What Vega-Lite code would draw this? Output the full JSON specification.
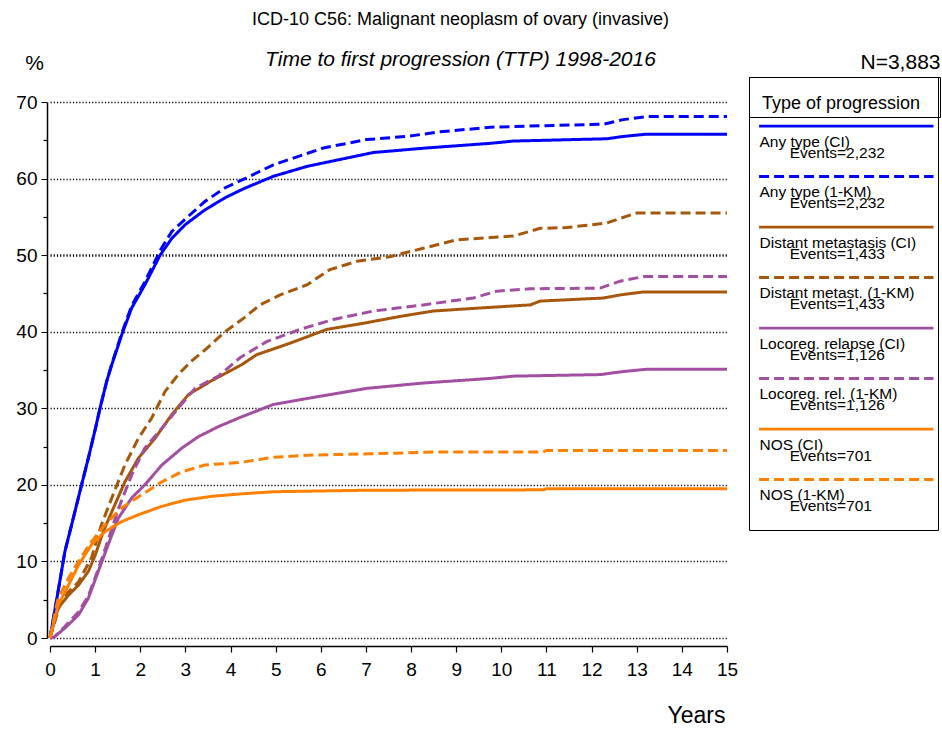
{
  "$schema": "https://vega.github.io/schema/vega-lite/v6.json",
  "width": 677,
  "height": 536,
  "autosize": {"type": "none"},
  "padding": {"left": 50, "top": 102, "right": 215, "bottom": 91},
  "background": "white",
  "config": {"view": {"stroke": null}, "font": "Liberation Sans", "style": {"guide-label": {"lineHeight": 11}}},
  "title": {
    "text": "ICD-10 C56: Malignant neoplasm of ovary (invasive)",
    "subtitle": "Time to first progression (TTP) 1998-2016",
    "anchor": "middle",
    "frame": "group",
    "dx": 72,
    "offset": -19,
    "fontSize": 18,
    "fontWeight": "normal",
    "color": "black",
    "subtitleFontSize": 21,
    "subtitleFontStyle": "italic",
    "subtitleColor": "black",
    "subtitlePadding": 20
  },
  "data": {
    "values": [
      {"s":"A1","t":0,"v":0},{"s":"A1","t":0.18,"v":6.1},{"s":"A1","t":0.33,"v":11.3},{"s":"A1","t":0.48,"v":14.8},{"s":"A1","t":0.7,"v":20},{"s":"A1","t":0.85,"v":23.5},{"s":"A1","t":1,"v":27.2},{"s":"A1","t":1.12,"v":30.3},{"s":"A1","t":1.26,"v":33.6},{"s":"A1","t":1.37,"v":35.7},{"s":"A1","t":1.59,"v":39.6},{"s":"A1","t":1.81,"v":43.1},{"s":"A1","t":2.1,"v":46.1},{"s":"A1","t":2.44,"v":50},{"s":"A1","t":2.7,"v":52.2},{"s":"A1","t":3,"v":54},{"s":"A1","t":3.43,"v":55.9},{"s":"A1","t":3.88,"v":57.5},{"s":"A1","t":4.3,"v":58.7},{"s":"A1","t":4.95,"v":60.3},{"s":"A1","t":5.7,"v":61.6},{"s":"A1","t":6.43,"v":62.5},{"s":"A1","t":7.16,"v":63.4},{"s":"A1","t":8.35,"v":64},{"s":"A1","t":9.75,"v":64.6},{"s":"A1","t":10.27,"v":64.9},{"s":"A1","t":12.34,"v":65.2},{"s":"A1","t":12.7,"v":65.5},{"s":"A1","t":13.22,"v":65.8},{"s":"A1","t":15,"v":65.8},
      {"s":"A2","t":0,"v":0},{"s":"A2","t":0.18,"v":6.1},{"s":"A2","t":0.33,"v":11.3},{"s":"A2","t":0.48,"v":14.8},{"s":"A2","t":0.7,"v":20},{"s":"A2","t":0.85,"v":23.5},{"s":"A2","t":1,"v":27.2},{"s":"A2","t":1.12,"v":30.3},{"s":"A2","t":1.26,"v":33.6},{"s":"A2","t":1.37,"v":35.8},{"s":"A2","t":1.59,"v":39.8},{"s":"A2","t":1.81,"v":43.4},{"s":"A2","t":2.1,"v":46.5},{"s":"A2","t":2.44,"v":50.6},{"s":"A2","t":2.7,"v":53.1},{"s":"A2","t":3.07,"v":55.1},{"s":"A2","t":3.43,"v":57},{"s":"A2","t":3.88,"v":58.8},{"s":"A2","t":4.32,"v":60},{"s":"A2","t":4.95,"v":61.8},{"s":"A2","t":6.06,"v":64},{"s":"A2","t":7.02,"v":65.1},{"s":"A2","t":7.9,"v":65.5},{"s":"A2","t":8.64,"v":66.1},{"s":"A2","t":9.75,"v":66.7},{"s":"A2","t":10.27,"v":66.8},{"s":"A2","t":12.26,"v":67.1},{"s":"A2","t":12.7,"v":67.7},{"s":"A2","t":13.22,"v":68.1},{"s":"A2","t":15,"v":68.1},
      {"s":"D1","t":0,"v":0},{"s":"D1","t":0.18,"v":3.9},{"s":"D1","t":0.41,"v":5.6},{"s":"D1","t":0.63,"v":6.9},{"s":"D1","t":0.85,"v":8.7},{"s":"D1","t":1,"v":10.8},{"s":"D1","t":1.18,"v":13.9},{"s":"D1","t":1.37,"v":16.5},{"s":"D1","t":1.66,"v":20.4},{"s":"D1","t":1.96,"v":23.5},{"s":"D1","t":2.33,"v":26.1},{"s":"D1","t":2.7,"v":29.2},{"s":"D1","t":3.07,"v":31.8},{"s":"D1","t":3.58,"v":33.6},{"s":"D1","t":4.25,"v":35.7},{"s":"D1","t":4.58,"v":37},{"s":"D1","t":5.32,"v":38.5},{"s":"D1","t":6.13,"v":40.3},{"s":"D1","t":6.94,"v":41.1},{"s":"D1","t":7.76,"v":42},{"s":"D1","t":8.49,"v":42.7},{"s":"D1","t":9.53,"v":43.1},{"s":"D1","t":10.64,"v":43.5},{"s":"D1","t":10.86,"v":44},{"s":"D1","t":12.26,"v":44.4},{"s":"D1","t":12.63,"v":44.8},{"s":"D1","t":13.15,"v":45.2},{"s":"D1","t":15,"v":45.2},
      {"s":"D2","t":0,"v":0},{"s":"D2","t":0.26,"v":5.2},{"s":"D2","t":0.63,"v":7.3},{"s":"D2","t":0.92,"v":10.5},{"s":"D2","t":1.14,"v":14.8},{"s":"D2","t":1.37,"v":18.3},{"s":"D2","t":1.66,"v":22.6},{"s":"D2","t":1.96,"v":26.1},{"s":"D2","t":2.25,"v":28.7},{"s":"D2","t":2.55,"v":32.2},{"s":"D2","t":2.84,"v":34.4},{"s":"D2","t":3.14,"v":36.2},{"s":"D2","t":3.43,"v":37.6},{"s":"D2","t":3.88,"v":40},{"s":"D2","t":4.3,"v":41.8},{"s":"D2","t":4.65,"v":43.5},{"s":"D2","t":5.1,"v":44.8},{"s":"D2","t":5.69,"v":46.1},{"s":"D2","t":6.2,"v":48.1},{"s":"D2","t":6.8,"v":49.2},{"s":"D2","t":7.53,"v":49.8},{"s":"D2","t":8.27,"v":50.9},{"s":"D2","t":9.01,"v":52},{"s":"D2","t":9.75,"v":52.3},{"s":"D2","t":10.27,"v":52.5},{"s":"D2","t":10.86,"v":53.5},{"s":"D2","t":11.45,"v":53.6},{"s":"D2","t":12.34,"v":54.2},{"s":"D2","t":12.63,"v":54.8},{"s":"D2","t":13,"v":55.5},{"s":"D2","t":15,"v":55.5},
      {"s":"L1","t":0,"v":0},{"s":"L1","t":0.09,"v":0.1},{"s":"L1","t":0.33,"v":1.3},{"s":"L1","t":0.63,"v":3},{"s":"L1","t":0.85,"v":5.2},{"s":"L1","t":1.07,"v":8.7},{"s":"L1","t":1.29,"v":12.2},{"s":"L1","t":1.51,"v":15.6},{"s":"L1","t":1.81,"v":18.3},{"s":"L1","t":2.1,"v":20},{"s":"L1","t":2.48,"v":22.6},{"s":"L1","t":2.92,"v":24.8},{"s":"L1","t":3.29,"v":26.3},{"s":"L1","t":3.73,"v":27.6},{"s":"L1","t":4.21,"v":28.8},{"s":"L1","t":4.95,"v":30.5},{"s":"L1","t":5.91,"v":31.5},{"s":"L1","t":7.02,"v":32.6},{"s":"L1","t":8.27,"v":33.3},{"s":"L1","t":9.75,"v":33.9},{"s":"L1","t":10.27,"v":34.2},{"s":"L1","t":12.19,"v":34.4},{"s":"L1","t":12.7,"v":34.8},{"s":"L1","t":13.22,"v":35.1},{"s":"L1","t":15,"v":35.1},
      {"s":"L2","t":0,"v":0},{"s":"L2","t":0.09,"v":0.1},{"s":"L2","t":0.33,"v":1.5},{"s":"L2","t":0.63,"v":3.4},{"s":"L2","t":0.85,"v":5.5},{"s":"L2","t":1.07,"v":9},{"s":"L2","t":1.29,"v":12.8},{"s":"L2","t":1.51,"v":16.8},{"s":"L2","t":1.81,"v":21.3},{"s":"L2","t":2.1,"v":24.8},{"s":"L2","t":2.48,"v":27.4},{"s":"L2","t":2.84,"v":30},{"s":"L2","t":3.21,"v":32.6},{"s":"L2","t":3.73,"v":34.2},{"s":"L2","t":4.21,"v":36.6},{"s":"L2","t":4.8,"v":38.7},{"s":"L2","t":5.54,"v":40.3},{"s":"L2","t":6.28,"v":41.6},{"s":"L2","t":7.16,"v":42.7},{"s":"L2","t":8.27,"v":43.5},{"s":"L2","t":9.38,"v":44.4},{"s":"L2","t":9.9,"v":45.3},{"s":"L2","t":10.64,"v":45.6},{"s":"L2","t":12.19,"v":45.7},{"s":"L2","t":12.63,"v":46.6},{"s":"L2","t":13.15,"v":47.2},{"s":"L2","t":15,"v":47.2},
      {"s":"N1","t":0,"v":0},{"s":"N1","t":0.18,"v":4.3},{"s":"N1","t":0.41,"v":6.9},{"s":"N1","t":0.63,"v":9.5},{"s":"N1","t":0.92,"v":12.2},{"s":"N1","t":1.22,"v":13.9},{"s":"N1","t":1.59,"v":15.2},{"s":"N1","t":1.96,"v":16.1},{"s":"N1","t":2.48,"v":17.2},{"s":"N1","t":2.99,"v":18},{"s":"N1","t":3.58,"v":18.5},{"s":"N1","t":4.3,"v":18.85},{"s":"N1","t":4.95,"v":19.1},{"s":"N1","t":7.02,"v":19.3},{"s":"N1","t":10.93,"v":19.35},{"s":"N1","t":11,"v":19.5},{"s":"N1","t":15,"v":19.5},
      {"s":"N2","t":0,"v":0},{"s":"N2","t":0.18,"v":5.2},{"s":"N2","t":0.41,"v":7.8},{"s":"N2","t":0.63,"v":10},{"s":"N2","t":0.92,"v":12.6},{"s":"N2","t":1.22,"v":14.8},{"s":"N2","t":1.59,"v":17},{"s":"N2","t":2.03,"v":18.7},{"s":"N2","t":2.48,"v":20.4},{"s":"N2","t":2.92,"v":21.7},{"s":"N2","t":3.43,"v":22.6},{"s":"N2","t":3.95,"v":22.8},{"s":"N2","t":4.3,"v":23},{"s":"N2","t":4.95,"v":23.6},{"s":"N2","t":5.83,"v":23.9},{"s":"N2","t":7.09,"v":24.05},{"s":"N2","t":8.57,"v":24.3},{"s":"N2","t":10.93,"v":24.3},{"s":"N2","t":11,"v":24.5},{"s":"N2","t":15,"v":24.5}
    ]
  },
  "layer": [
    {
      "mark": {"type": "line", "strokeWidth": 3, "clip": false},
      "encoding": {
        "x": {
          "field": "t", "type": "quantitative",
          "scale": {"domain": [0, 15], "nice": false, "zero": false},
          "axis": {
            "orient": "bottom",
            "values": [0,0.25,0.5,0.75,1,1.25,1.5,1.75,2,2.25,2.5,2.75,3,3.25,3.5,3.75,4,4.25,4.5,4.75,5,5.25,5.5,5.75,6,6.25,6.5,6.75,7,7.25,7.5,7.75,8,8.25,8.5,8.75,9,9.25,9.5,9.75,10,10.25,10.5,10.75,11,11.25,11.5,11.75,12,12.25,12.5,12.75,13,13.25,13.5,13.75,14,14.25,14.5,14.75,15],
            "format": "d",
            "labelExpr": "datum.value % 1 === 0 ? datum.label : ''",
            "labelOverlap": false,
            "offset": 8,
            "tickSize": 6,
            "tickDash": {"condition": {"test": "datum.value % 1 === 0", "value": [1, 0]}, "value": [4, 4]},
            "tickColor": "black", "tickWidth": 1.2,
            "domainColor": "black", "domainWidth": 1.5,
            "labelFontSize": 19, "labelColor": "black", "labelPadding": 8, "labelFlush": false,
            "grid": false,
            "title": "Years", "titleFontSize": 23, "titleFontWeight": "normal", "titleColor": "black",
            "titleX": 675, "titleY": 76, "titleAlign": "right", "titleBaseline": "alphabetic"
          }
        },
        "y": {
          "field": "v", "type": "quantitative",
          "scale": {"domain": [0, 70], "nice": false, "zero": true},
          "axis": {
            "orient": "left",
            "values": [0,5,10,15,20,25,30,35,40,45,50,55,60,65,70],
            "format": "d",
            "labelExpr": "datum.value % 10 === 0 ? datum.label : ''",
            "labelOverlap": false,
            "offset": 3,
            "tickSize": 6,
            "tickDash": {"condition": {"test": "datum.value % 10 === 0", "value": [1, 0]}, "value": [4, 4]},
            "tickColor": "black", "tickWidth": 1.2,
            "domainColor": "black", "domainWidth": 1.5,
            "labelFontSize": 19, "labelColor": "black", "labelPadding": 4,
            "grid": true, "gridColor": "black", "gridDash": [1.2, 2],
            "gridOpacity": {"condition": {"test": "datum.value % 10 === 0", "value": 1}, "value": 0},
            "gridWidth": {"condition": {"test": "datum.value === 50", "value": 2.4}, "value": 1.3},
            "title": "%", "titleAngle": 0, "titleFontSize": 21, "titleFontWeight": "normal", "titleColor": "black",
            "titleX": -13, "titleY": -33, "titleAlign": "center", "titleBaseline": "alphabetic"
          }
        },
        "color": {
          "field": "s", "type": "nominal",
          "scale": {
            "domain": ["A1","A2","D1","D2","L1","L2","N1","N2"],
            "range": ["#0000ff","#0000ff","#a6570b","#a6570b","#a24fa2","#a24fa2","#ff8000","#ff8000"]
          },
          "legend": {
            "orient": "none", "legendX": 699, "legendY": -25, "direction": "vertical",
            "title": "\u200b", "titleFontSize": 18, "titlePadding": 25.5,
            "padding": 4, "strokeColor": "black", "fillColor": null,
            "symbolType": "M-1,-0.088H1", "symbolSize": 37190, "symbolStrokeWidth": 3, "symbolOffset": 4.5,
            "clipHeight": 20, "rowPadding": 13.5,
            "labelOffset": -194, "labelBaseline": "top", "labelFontSize": 15.5, "labelColor": "black", "labelLimit": 400,
            "labelExpr": "datum.label == 'A1' ? ['Any type (CI)', '\u200b\u00a0\u00a0\u00a0\u00a0\u00a0\u00a0\u00a0Events=2,232'] : datum.label == 'A2' ? ['Any type (1-KM)', '\u200b\u00a0\u00a0\u00a0\u00a0\u00a0\u00a0\u00a0Events=2,232'] : datum.label == 'D1' ? ['Distant metastasis (CI)\u00a0\u00a0\u00a0\u00a0\u200b', '\u200b\u00a0\u00a0\u00a0\u00a0\u00a0\u00a0\u00a0Events=1,433'] : datum.label == 'D2' ? ['Distant metast. (1-KM)', '\u200b\u00a0\u00a0\u00a0\u00a0\u00a0\u00a0\u00a0Events=1,433'] : datum.label == 'L1' ? ['Locoreg. relapse (CI)', '\u200b\u00a0\u00a0\u00a0\u00a0\u00a0\u00a0\u00a0Events=1,126'] : datum.label == 'L2' ? ['Locoreg. rel. (1-KM)', '\u200b\u00a0\u00a0\u00a0\u00a0\u00a0\u00a0\u00a0Events=1,126'] : datum.label == 'N1' ? ['NOS (CI)', '\u200b\u00a0\u00a0\u00a0\u00a0\u00a0\u00a0\u00a0Events=701'] : ['NOS (1-KM)', '\u200b\u00a0\u00a0\u00a0\u00a0\u00a0\u00a0\u00a0Events=701', '\u200b']"
          }
        },
        "strokeDash": {
          "field": "s", "type": "nominal",
          "scale": {
            "domain": ["A1","A2","D1","D2","L1","L2","N1","N2"],
            "range": [[1,0],[10,5],[1,0],[10,5],[1,0],[10,5],[1,0],[10,5]]
          },
          "legend": {
            "orient": "none", "legendX": 699, "legendY": -25, "direction": "vertical",
            "title": "\u200b", "titleFontSize": 18, "titlePadding": 25.5,
            "padding": 4, "strokeColor": "black", "fillColor": null,
            "symbolType": "M-1,-0.088H1", "symbolSize": 37190, "symbolStrokeWidth": 3, "symbolOffset": 4.5,
            "clipHeight": 20, "rowPadding": 13.5,
            "labelOffset": -194, "labelBaseline": "top", "labelFontSize": 15.5, "labelColor": "black", "labelLimit": 400,
            "labelExpr": "datum.label == 'A1' ? ['Any type (CI)', '\u200b\u00a0\u00a0\u00a0\u00a0\u00a0\u00a0\u00a0Events=2,232'] : datum.label == 'A2' ? ['Any type (1-KM)', '\u200b\u00a0\u00a0\u00a0\u00a0\u00a0\u00a0\u00a0Events=2,232'] : datum.label == 'D1' ? ['Distant metastasis (CI)\u00a0\u00a0\u00a0\u00a0\u200b', '\u200b\u00a0\u00a0\u00a0\u00a0\u00a0\u00a0\u00a0Events=1,433'] : datum.label == 'D2' ? ['Distant metast. (1-KM)', '\u200b\u00a0\u00a0\u00a0\u00a0\u00a0\u00a0\u00a0Events=1,433'] : datum.label == 'L1' ? ['Locoreg. relapse (CI)', '\u200b\u00a0\u00a0\u00a0\u00a0\u00a0\u00a0\u00a0Events=1,126'] : datum.label == 'L2' ? ['Locoreg. rel. (1-KM)', '\u200b\u00a0\u00a0\u00a0\u00a0\u00a0\u00a0\u00a0Events=1,126'] : datum.label == 'N1' ? ['NOS (CI)', '\u200b\u00a0\u00a0\u00a0\u00a0\u00a0\u00a0\u00a0Events=701'] : ['NOS (1-KM)', '\u200b\u00a0\u00a0\u00a0\u00a0\u00a0\u00a0\u00a0Events=701', '\u200b']"
          }
        }
      }
    },
    {
      "mark": {"type": "point", "opacity": 0},
      "encoding": {
        "x": {"field": "t", "type": "quantitative", "axis": null},
        "y": {"field": "v", "type": "quantitative", "axis": null},
        "shape": {
          "datum": "hdr",
          "scale": {"range": ["M-1,-0.14H1V0.14H-1Z"]},
          "legend": {
            "orient": "none", "legendX": 699, "legendY": -25, "title": null,
            "padding": 4, "strokeColor": "black", "fillColor": null,
            "symbolSize": 38550, "symbolStrokeWidth": 0, "symbolOpacity": 0, "symbolOffset": 0,
            "clipHeight": 27,
            "labelExpr": "'Type of progression\u00a0\u00a0\u00a0\u200b'", "labelFontSize": 18, "labelColor": "black",
            "labelBaseline": "top", "labelOffset": -188, "labelLimit": 400
          }
        }
      }
    },
    {
      "mark": {"type": "point", "opacity": 0},
      "encoding": {
        "x": {
          "field": "t", "type": "quantitative",
          "axis": {
            "orient": "top", "labels": false, "ticks": false, "domain": false, "grid": false,
            "title": "N=3,883", "titleFontSize": 21, "titleFontWeight": "normal", "titleColor": "black",
            "titleX": 890, "titleY": -34, "titleAlign": "right", "titleBaseline": "alphabetic"
          }
        },
        "y": {"field": "v", "type": "quantitative", "axis": null}
      }
    }
  ],
  "resolve": {"axis": {"x": "independent", "y": "independent"}}
}
